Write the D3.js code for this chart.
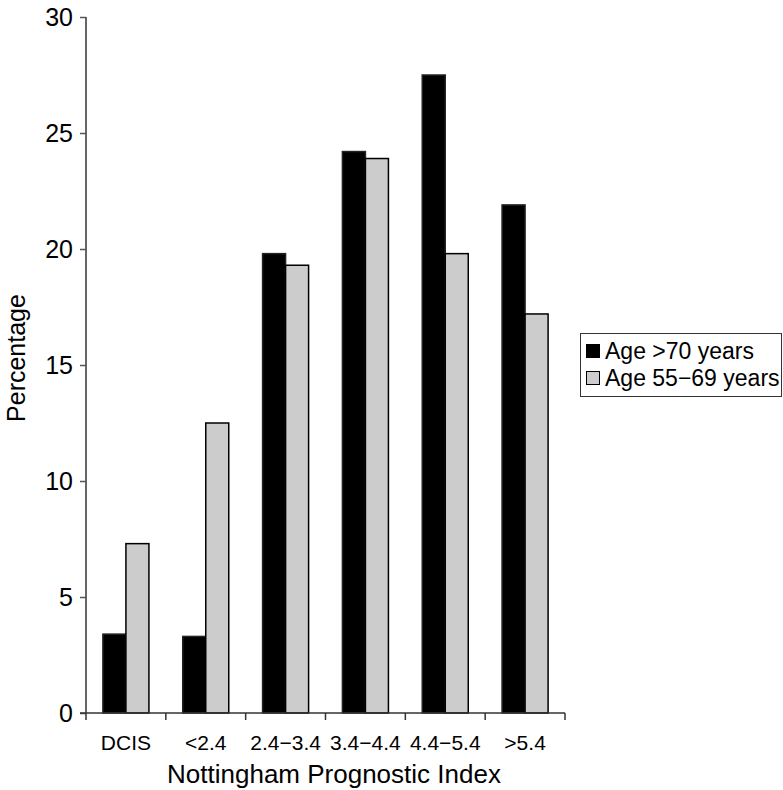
<!DOCTYPE html>
<html><head><meta charset="utf-8">
<script src="https://cdn.jsdelivr.net/npm/d3@7"></script>
<style>
body{margin:0;background:#fff;}
text{font-family:"Liberation Sans",Arial,Helvetica,sans-serif;fill:#000;}
</style></head>
<body><svg id="chart" width="783" height="790"></svg>
<script>
const categories = ["DCIS", "<2.4", "2.4\u22123.4", "3.4\u22124.4", "4.4\u22125.4", ">5.4"];
const seriesNames = ["Age >70 years", "Age 55\u221269 years"];
const over70 = [3.4, 3.3, 19.8, 24.2, 27.5, 21.9];
const age55to69 = [7.3, 12.5, 19.3, 23.9, 19.8, 17.2];
const yTicks = [0, 5, 10, 15, 20, 25, 30];
const colors = ["#000000", "#cccccc"];

const svg = d3.select("#chart");
const x0 = d3.scaleBand().domain(categories).range([86, 565]);
const x1 = d3.scaleBand().domain(seriesNames).range([0, x0.bandwidth()]).paddingOuter(0.735);
const y = d3.scaleLinear().domain([0, 30]).range([713, 17]);

const data = categories.map((c, i) => ({cat: c, vals: [over70[i], age55to69[i]]}));

// bars
const g = svg.append("g");
data.forEach(d => {
  d.vals.forEach((v, j) => {
    g.append("rect")
      .attr("x", x0(d.cat) + x1(seriesNames[j]))
      .attr("y", y(v))
      .attr("width", x1.bandwidth())
      .attr("height", y(0) - y(v))
      .attr("fill", colors[j])
      .attr("stroke", j === 0 ? "#222" : "#000")
      .attr("stroke-width", 1.5);
  });
});

// y axis
const yAxis = svg.append("g").attr("transform", "translate(86,0)")
  .call(d3.axisLeft(y).tickValues(yTicks).tickSize(6).tickPadding(7).tickFormat(d3.format("d")));
yAxis.select(".domain").attr("stroke", "#333").attr("stroke-width", 1.5).attr("d", "M0,17V713");
yAxis.selectAll(".tick line").attr("stroke", "#555").attr("stroke-width", 1.5);
yAxis.selectAll("text").style("font-size", "25px").attr("fill", "#000");

// x axis
const xAxis = svg.append("g").attr("transform", "translate(0,713)")
  .call(d3.axisBottom(x0).tickSize(0));
xAxis.select(".domain").attr("stroke", "#333").attr("stroke-width", 1.5).attr("d", "M80,0H565");
xAxis.selectAll("text").style("font-size", "21px").attr("y", 37).attr("dy", 0);
const bounds = categories.map(c => x0(c)).concat([x0.range()[1]]);
xAxis.selectAll(".bound").data(bounds).enter().append("line")
  .attr("x1", d => d).attr("x2", d => d).attr("y1", 0).attr("y2", 7)
  .attr("stroke", "#333").attr("stroke-width", 1.5);

// titles
svg.append("text").attr("x", 334).attr("y", 783).attr("text-anchor", "middle")
  .style("font-size", "26px").text("Nottingham Prognostic Index");
svg.append("text").attr("transform", "translate(25,358) rotate(-90)").attr("text-anchor", "middle")
  .style("font-size", "25px").text("Percentage");

// legend
const lg = svg.append("g");
lg.append("rect").attr("x", 580.5).attr("y", 333.5).attr("width", 201).attr("height", 63)
  .attr("fill", "#fff").attr("stroke", "#333").attr("stroke-width", 1);
seriesNames.forEach((s, j) => {
  const cy = 351 + j * 27;
  lg.append("rect").attr("x", 586.5).attr("y", cy - 6.5).attr("width", 13).attr("height", 13)
    .attr("fill", colors[j]).attr("stroke", "#000").attr("stroke-width", 1);
  lg.append("text").attr("x", 605).attr("y", cy).attr("dy", "0.36em")
    .style("font-size", "23px").text(s);
});
</script></body></html>
